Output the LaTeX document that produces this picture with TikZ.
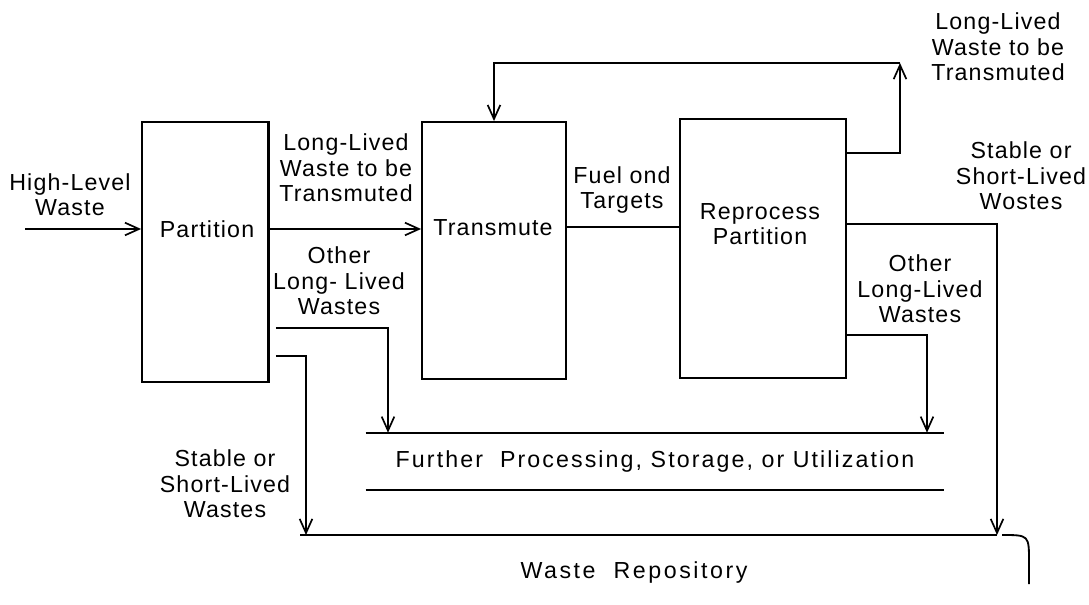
\documentclass[tikz,border=0pt]{standalone}
\usepackage{fontspec}
\setmainfont{Liberation Sans}[LetterSpace=5]
\usetikzlibrary{positioning,calc,arrows.meta}

\tikzset{
  stage/.style={draw, line width=1.3pt, inner sep=0pt},
  line/.style={line width=1.3pt},
  flow/.style={line width=1.3pt, -{Straight Barb[length=10pt,width=9pt,line width=1.2pt]}},
  lbl/.style={align=center, inner sep=1pt, font=\fontsize{16.5}{18}\selectfont},
  widelbl/.style={lbl, font=\fontsize{16.5}{18}\selectfont\addfontfeatures{LetterSpace=9}}
}

\begin{document}
\begin{tikzpicture}[x=0.025cm, y=-0.025cm]
    \useasboundingbox (0,0) rectangle (1089,604);

    % Process boxes
    \node[stage, minimum width=3.15cm, minimum height=6.5cm] (part) at (205,252) {};
    \node[stage, minimum width=3.6cm, minimum height=6.425cm] (trans) at (494,250.5) {};
    \node[stage, minimum width=4.15cm, minimum height=6.475cm] (repr) at (763,248.5) {};
    \draw[line width=2pt] (part.north east) -- (part.south east);

    \node[lbl] (partname) at (207,229) {Partition};
    \node[lbl] (transname) at (493,228) {Transmute};
    \node[lbl] (reprname) at (760,224) {Reprocess\\Partition};

    % Further processing band and repository
    \node[widelbl, minimum width=14.45cm, minimum height=1.425cm] (further) at (655,461.5)
        {Further\ \ Processing, Storage, or Utilization};
    \draw[line] (further.north west) -- (further.north east);
    \draw[line] (further.south west) -- (further.south east);
    \coordinate (repoL) at (300,535);
    \coordinate (repoR) at (997,535);
    \draw[line] (repoL) -- (repoR);
    \node[widelbl, font=\fontsize{16.5}{18}\selectfont\addfontfeatures{LetterSpace=11}] (repo) at (634,572) {Waste\ \ Repository};

    % Feed
    \coordinate (feed) at (25,229);
    \draw[flow] (feed) -- (feed -| part.west);
    \node[lbl] (hlw) at (70,195) {High-Level\\Waste};

    % Partition outputs
    \draw[flow] (part.east |- feed) -- (trans.west |- feed);
    \node[lbl] (lltop) at (346,168) {Long-Lived\\Waste to be\\Transmuted};
    \node[lbl] (olwleft) at (339,281) {Other\\Long- Lived\\Wastes};
    \coordinate (olwdrop) at (388,328);
    \draw[flow] ($(part.east |- olwdrop)+(7,0)$) -| (olwdrop |- further.north);
    \coordinate (sldrop) at (306,356);
    \draw[flow] ($(part.east |- sldrop)+(7,0)$) -| (sldrop |- repoL);
    \node[lbl] (slleft) at (225,484) {Stable or\\Short-Lived\\Wastes};

    % Transmute to reprocessing
    \coordinate (fuel) at (620,227);
    \draw[line] (trans.east |- fuel) -- (repr.west |- fuel);
    \node[lbl] (fueltxt) at (622,190) {Fuel ond\\Targets};

    % Recycle loop
    \coordinate (recyc) at (900,153);
    \coordinate (loop) at (900,63);
    \draw[flow] (repr.east |- recyc) -| (loop);
    \draw[flow] (loop) -| (trans.north);
    \node[lbl] (llright) at (998,47) {Long-Lived\\Waste to be\\Transmuted};

    % Stable wastes to repository
    \coordinate (stable) at (997,224);
    \draw[flow, line width=2pt] (repr.east |- stable) -| (repoR);
    \node[lbl] (slright) at (1021,176) {Stable or\\Short-Lived\\Wostes};

    % Other long-lived wastes from reprocessing
    \coordinate (olwright) at (927,335);
    \draw[flow] (repr.east |- olwright) -| (olwright |- further.north);
    \node[lbl] (olwrtxt) at (920,289) {Other\\Long-Lived\\Wastes};

    % Repository outlet
    \draw[line] ($(repoR)+(5,0)$) .. controls (1029,535) .. (1029,562) -- (1029,584);
\end{tikzpicture}
\end{document}
